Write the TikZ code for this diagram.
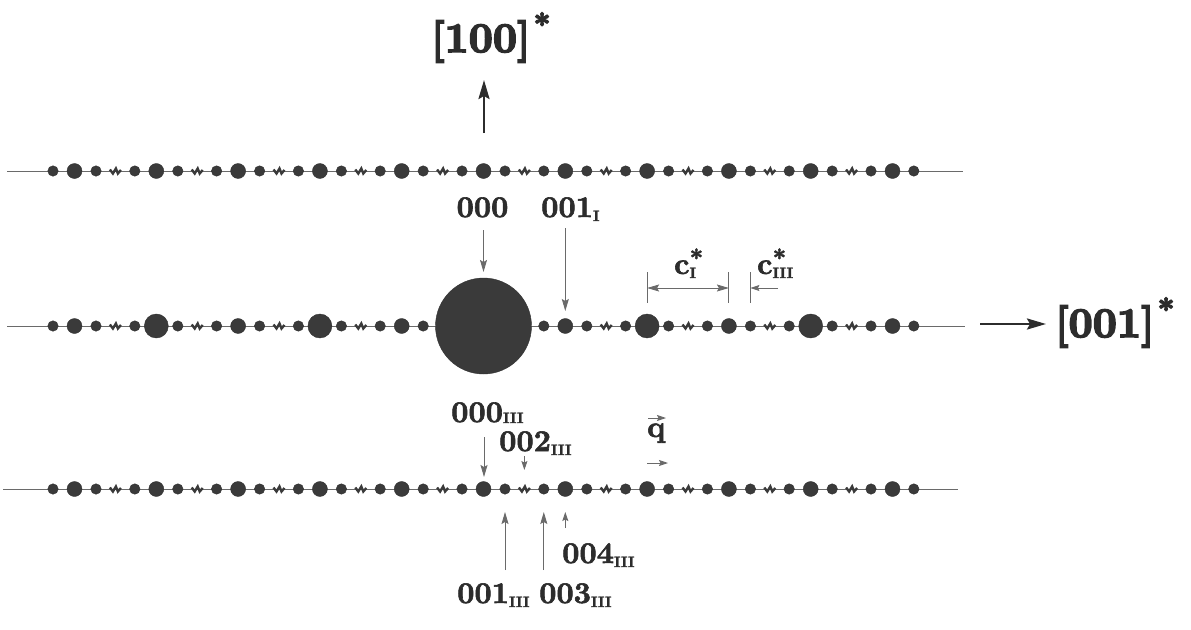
\documentclass[tikz,border=0pt]{standalone}
\usepackage{fontspec}
\newfontfamily\lblfont{lmroman10-bold.otf}[FakeBold=2]
\newfontfamily\axisfont{lmroman10-bold.otf}[FakeBold=4]
\usetikzlibrary{arrows.meta}
\definecolor{spot}{HTML}{3A3A3A}
\definecolor{ln}{HTML}{6A6A6A}
\definecolor{ink}{HTML}{2C2C2C}
\newcommand{\lsub}[1]{\raisebox{-4pt}{\fontsize{15}{15}\selectfont #1}}
\newcommand{\supstar}{\raisebox{17pt}{\fontsize{30}{30}\selectfont *}}
\newcommand{\cstar}[1]{c\rlap{\raisebox{7.5pt}{\fontsize{24}{24}\selectfont *}}\raisebox{-4pt}{\fontsize{15}{15}\selectfont #1}}
\begin{document}
\begin{tikzpicture}[x=1pt,y=-1pt,
  spotS/.style={circle,fill=spot,draw=spot!85!black,line width=0.4pt,inner sep=0pt,minimum size=10.5pt},
  spotB/.style={spotS,minimum size=15pt},
  spotL/.style={spotS,minimum size=24pt},
  spotH/.style={spotS,minimum size=96pt},
  rowline/.style={draw=ln,line width=1pt},
  zig/.style={draw=spot,line width=2.4pt,line join=miter},
  lbl/.style={font=\fontsize{30}{30}\lblfont,text=ink,inner sep=0pt},
  axislbl/.style={font=\fontsize{42}{42}\axisfont,text=ink,inner sep=0pt},
  thinarr/.style={draw=ln,line width=0.9pt,-{Stealth[length=12pt,width=7pt,inset=2pt]}},
  shortarr/.style={draw=ln,line width=0.9pt,-{Stealth[length=9pt,width=6pt,inset=1.5pt]}},
  dimarr/.style={draw=ln,line width=0.9pt,{Stealth[length=12pt,width=7pt,inset=2pt]}-{Stealth[length=12pt,width=7pt,inset=2pt]}},
  tick/.style={draw=ln,line width=0.9pt},
  bigarr/.style={draw=ink,line width=2.6pt,-{Stealth[length=19pt,width=11pt,inset=3pt]}},
]
\useasboundingbox (0,0) rectangle (1191,629);

% ---- row lines
\draw[rowline] (7,171) -- (963,171);
\draw[rowline] (7,326) -- (965,326);
\draw[rowline] (3,489) -- (958,489);

% ---- top and bottom rows
\foreach \r/\yy in {t/171,b/489}{
  \foreach \k in {-5,...,4}{
    \pgfmathsetmacro{\xb}{483.5+81.8*\k}
    \pgfmathtruncatemacro{\i}{\k+5}
    \node[spotS] (\r a\i) at (\xb+21.5,\yy) {};
    \node[spotS] (\r c\i) at (\xb+60.3,\yy) {};
    \draw[zig] (\xb+35.4,\yy-1.5) -- (\xb+38.4,\yy+2.5) -- (\xb+41.4,\yy-2.5) -- (\xb+43.4,\yy+2.5) -- (\xb+46.4,\yy-1);
  }
  \foreach \k in {-5,...,5}{
    \pgfmathsetmacro{\xb}{483.5+81.8*\k}
    \pgfmathtruncatemacro{\i}{\k+5}
    \node[spotB] (\r big\i) at (\xb,\yy) {};
  }
  \node[spotS] (\r L) at (53,\yy) {};
  \node[spotS] (\r R) at (913.8,\yy) {};
}

% ---- middle row
\foreach \k in {-5,...,4}{
  \pgfmathsetmacro{\xb}{483.5+81.8*\k}
  \pgfmathtruncatemacro{\i}{\k+5}
  \node[spotS] (ma\i) at (\xb+21.5,326) {};
  \node[spotS] (mc\i) at (\xb+60.3,326) {};
  \draw[zig] (\xb+35.4,324.5) -- (\xb+38.4,328.5) -- (\xb+41.4,323.5) -- (\xb+43.4,328.5) -- (\xb+46.4,325);
}
\node[spotS] (mL) at (53,326) {};
\node[spotS] (mR) at (913.8,326) {};
\foreach \k in {-5,...,5}{
  \pgfmathsetmacro{\xb}{483.5+81.8*\k}
  \pgfmathtruncatemacro{\i}{\k+5}
  \pgfmathtruncatemacro{\odd}{mod(abs(\k),2)}
  \ifnum\k=0
    \node[spotH] (mbig\i) at (\xb,326) {};
  \else\ifnum\odd=1
    \node[spotB] (mbig\i) at (\xb,326) {};
  \else
    \node[spotL] (mbig\i) at (\xb,326) {};
  \fi\fi
}

% ---- axes
\node[axislbl,anchor=base west] (ax100) at (431,52) {[100]\hspace{3pt}\supstar};
\coordinate (u0) at (484,133);
\coordinate (u1) at (484,80);
\draw[bigarr] (u0) -- (u1);

\node[axislbl,anchor=base west] (ax001) at (1055,337) {[001]\hspace{3pt}\supstar};
\coordinate (r0) at (980,324);
\coordinate (r1) at (1046,324);
\draw[bigarr] (r0) -- (r1);

% ---- labels, middle row
\node[lbl,anchor=base] (l000) at (482.5,217) {000};
\coordinate (a000s) at (483.5,230);
\coordinate (a000e) at (483.5,272);
\draw[thinarr] (a000s) -- (a000e);

\node[lbl,anchor=base west] (l001I) at (541,217) {001\lsub{I}};
\coordinate (a001s) at (565.3,228);
\coordinate (a001e) at (565.3,311);
\draw[thinarr] (a001s) -- (a001e);

% c* dimensions
\coordinate (k1t) at (647.1,272); \coordinate (k1b) at (647.1,303);
\coordinate (k2t) at (728.9,272); \coordinate (k2b) at (728.9,303);
\coordinate (k3t) at (750.4,272); \coordinate (k3b) at (750.4,303);
\draw[tick] (k1t) -- (k1b);
\draw[tick] (k2t) -- (k2b);
\draw[tick] (k3t) -- (k3b);
\coordinate (d1) at (647.1,288); \coordinate (d2) at (728.9,288);
\draw[dimarr] (d1) -- (d2);
\coordinate (d3) at (778,288); \coordinate (d4) at (750.4,288);
\draw[shortarr] (d3) -- (d4);
\node[lbl,anchor=base west] (cI) at (674,274) {\cstar{I}};
\node[lbl,anchor=base west] (cIII) at (757,274) {\cstar{III}};

% ---- labels, bottom row
\node[lbl,anchor=base west] (l000III) at (451,422) {000\raisebox{-1pt}{\fontsize{15}{15}\selectfont III}};
\coordinate (b0s) at (484,437); \coordinate (b0e) at (484,477);
\draw[thinarr] (b0s) -- (b0e);

\node[lbl,anchor=base west] (l002III) at (499,451) {002\lsub{III}};
\coordinate (b2s) at (524.4,456); \coordinate (b2e) at (524.4,470);
\draw[shortarr] (b2s) -- (b2e);

\node[lbl,anchor=base west] (l001III) at (457,603) {001\lsub{III}};
\coordinate (b1s) at (505,570); \coordinate (b1e) at (505,512);
\draw[thinarr] (b1s) -- (b1e);

\node[lbl,anchor=base west] (l003III) at (539,603) {003\lsub{III}};
\coordinate (b3s) at (543.8,570); \coordinate (b3e) at (543.8,512);
\draw[thinarr] (b3s) -- (b3e);

\node[lbl,anchor=base west] (l004III) at (562,563) {004\lsub{III}};
\coordinate (b4s) at (565.3,528); \coordinate (b4e) at (565.3,512);
\draw[shortarr] (b4s) -- (b4e);

% ---- q vector
\node[lbl,anchor=base west] (qlbl) at (647,437) {q};
\coordinate (qv0) at (648,418); \coordinate (qv1) at (666,418);
\draw[shortarr] (qv0) -- (qv1);
\coordinate (qa0) at (647,463); \coordinate (qa1) at (668,463);
\draw[shortarr] (qa0) -- (qa1);
\end{tikzpicture}
\end{document}
